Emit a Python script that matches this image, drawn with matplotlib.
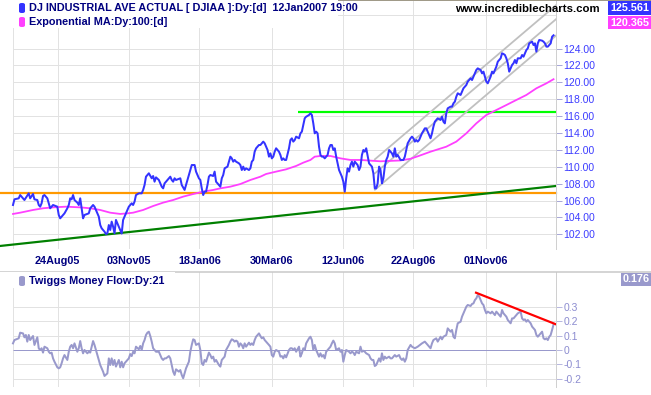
import matplotlib
matplotlib.use("Agg")
import matplotlib.pyplot as plt
import matplotlib.transforms as mtrans
from matplotlib.patches import Rectangle, FancyBboxPatch
from matplotlib.lines import Line2D

plt.rcParams['font.family'] = ['Liberation Sans', 'DejaVu Sans']

# ---------------- data (x = trading-day offset from 13 Jul 2005) ----------------
tick_days = [31.3, 80.9, 130.3, 180.9, 231.0, 280.0, 330.5]
tick_labels = ['24Aug05', '03Nov05', '18Jan06', '30Mar06', '12Jun06', '22Aug06', '01Nov06']

price_day = [0, 1, 4, 5, 7, 8, 11, 12, 14, 15, 17, 18, 19, 20, 21, 22, 24, 25, 26, 28,
             31, 32, 33, 35, 36, 38, 39, 40, 41, 42, 43, 45, 46, 47, 48, 49, 50, 53, 54, 56,
             57, 58, 60, 61, 62, 64, 65, 66, 67, 68, 69, 70, 71, 72, 74, 75, 76, 77, 78, 79,
             80, 81, 82, 83, 84, 85, 86, 88, 90, 91, 92, 93, 95, 97, 98, 99, 100, 102, 104, 105,
             106, 107, 109, 110, 111, 112, 113, 114, 117, 118, 120, 121, 122, 123, 124, 125, 127, 128, 130, 131,
             132, 133, 134, 135, 136, 137, 138, 140, 141, 142, 144, 145,
             146, 147, 148, 150, 151, 152, 153, 154, 155, 156, 158, 159, 160, 161, 162, 163, 165, 166, 167, 168,
             169, 170, 172, 173, 174, 175, 176, 177, 178, 179, 180, 181, 182, 183, 184, 186, 187, 188, 189, 190,
             191, 193, 194, 195, 196, 197, 198, 200, 201, 202, 203, 204, 205, 207, 208, 209, 210, 211, 212, 213,
             214, 215, 216, 217, 218, 219, 220, 221, 222, 223, 224, 225, 226, 227, 228, 229, 230, 231, 232, 233,
             234, 235, 236, 237, 238, 239, 240, 241, 242, 243, 244, 245, 246, 247, 249, 250, 251, 252, 253, 254,
             255, 256, 257, 258, 259, 260, 261, 262, 263, 265, 266, 267, 268, 269, 271, 273, 274, 275, 276, 278,
             279, 280, 281, 282, 283, 284,
             285, 286, 288, 289, 290, 292, 293, 294, 295, 297, 299, 300, 301, 302, 303, 304, 306, 307, 308, 309,
             310, 311, 313, 314, 315, 316, 317, 318, 320, 321, 322, 323, 324, 325, 327, 328, 329, 330, 331, 332,
             334, 335, 336, 337, 338, 339, 341, 342, 343, 344, 345, 346, 347, 348, 349, 350, 351, 352, 353, 355,
             356, 357, 358, 359, 360, 361, 363, 364, 365, 366, 367, 368, 370, 371, 372, 373, 374, 375, 376, 377,
             378]
price_val = [105.48, 106.15, 106.27, 106.66, 106.27, 106.07, 106.86, 106.27, 106.78, 106.15, 106.07, 105.48, 105.28, 105.68, 106.55, 106.66, 106.27, 105.68, 105.09, 105.48,
             105.28, 104.30, 103.90, 104.30, 104.49, 105.09, 105.48, 106.27, 106.15, 106.66, 106.07, 105.76, 105.48, 106.27, 105.09, 103.90, 104.30, 104.49, 105.09, 105.48,
             105.28, 104.89, 104.10, 103.11, 102.72, 102.32, 102.05, 102.13, 103.11, 102.52, 103.51, 102.92, 102.13, 103.71, 102.92, 102.52, 102.10, 103.71, 104.10, 104.49,
             104.89, 105.28, 105.48, 105.68, 105.48, 105.88, 106.66, 106.86, 106.86, 107.26, 107.85, 108.83, 109.23, 108.64, 108.91, 108.24, 108.75, 108.44, 107.65, 107.45,
             108.04, 108.24, 108.64, 108.83, 108.44, 108.24, 108.64, 108.44, 108.64, 107.85, 107.26, 107.85, 108.44, 109.03, 109.62, 110.21, 110.21, 109.43, 108.64, 108.44,
             107.45, 106.66, 107.06, 107.06, 107.85, 108.83, 109.03, 108.91, 109.43, 108.24, 107.85, 107.65,
             108.64, 109.03, 109.82, 110.02, 110.61, 111.20, 111.00, 110.61, 110.81, 110.61, 110.41, 110.21, 109.62, 110.02, 109.62, 109.82, 109.62, 109.82, 110.61, 110.81,
             111.79, 112.19, 112.58, 112.58, 112.78, 112.98, 112.78, 112.38, 111.99, 111.20, 111.59, 111.00, 111.20, 111.79, 112.19, 111.79, 111.40, 110.81, 111.00, 110.81,
             110.81, 112.19, 113.17, 113.37, 112.98, 113.17, 113.57, 113.37, 113.96, 114.16, 114.95, 115.74, 115.93, 116.13, 116.33, 116.13, 115.14, 113.96, 114.16, 113.96,
             112.38, 111.40, 111.20, 111.20, 111.00, 111.20, 111.40, 112.19, 112.58, 112.58, 111.99, 112.19, 111.20, 110.41, 109.62, 109.23, 108.83, 108.24, 107.06, 108.64,
             109.82, 109.43, 110.21, 110.61, 110.02, 110.61, 110.41, 110.21, 109.62, 110.02, 111.40, 111.99, 111.79, 112.19, 110.41, 110.21, 110.02, 109.23, 107.45, 107.45,
             108.04, 110.02, 109.62, 108.04, 108.64, 110.02, 110.81, 111.20, 111.99, 111.59, 111.20, 112.19, 111.20, 111.40, 110.81, 110.81, 111.20, 111.99, 112.78, 113.37,
             113.57, 113.37, 112.98, 113.17, 112.98, 113.17,
             113.57, 113.96, 114.55, 114.55, 114.16, 113.37, 113.96, 114.75, 115.34, 115.74, 115.54, 115.93, 115.34, 115.14, 116.33, 116.92, 117.12, 117.12, 117.51, 117.71,
             118.30, 118.70, 118.50, 118.89, 119.29, 119.48, 119.68, 120.08, 120.47, 120.27, 120.67, 121.06, 121.46, 121.65, 121.46, 121.06, 121.26, 120.67, 120.08, 119.88,
             120.67, 121.26, 121.06, 121.46, 121.85, 122.44, 122.84, 123.43, 123.35, 123.23, 122.84, 122.25, 121.26, 121.65, 122.05, 122.25, 122.64, 122.25, 122.84, 122.84,
             123.23, 123.03, 123.43, 123.82, 124.02, 124.61, 124.81, 124.41, 124.61, 123.63, 124.61, 125.01, 124.93, 124.81, 124.61, 124.22, 124.22, 124.41, 124.61, 125.40,
             125.561]

ema_day = [0, 5, 14, 21, 28, 37, 47, 54, 61, 68, 75, 80, 84, 91, 98, 105, 112, 119, 126, 133,
           140, 145, 152, 159, 166, 173, 177, 184, 191, 198, 203, 208, 211, 215, 222, 229, 236, 243, 250, 257,
           264, 271, 278, 284, 292, 303, 310, 317, 324, 331, 338, 345, 352, 359, 366, 373, 378]
ema_val = [104.42, 104.57, 104.89, 105.09, 105.20, 105.28, 105.20, 105.09, 104.89, 104.57, 104.42, 104.49, 104.57, 104.89, 105.36, 105.76, 106.07, 106.47, 106.78, 107.06,
           107.26, 107.45, 107.65, 107.96, 108.44, 108.83, 109.15, 109.43, 109.70, 110.10, 110.49, 110.81, 111.20, 111.28, 111.28, 111.00, 110.81, 110.81, 110.73, 110.65,
           110.70, 110.75, 110.95, 111.30, 111.79, 112.38, 112.98, 113.96, 115.14, 116.13, 116.72, 117.31, 117.91, 118.50, 119.29, 119.88, 120.365]

tmf_day = [0, 1, 4, 5, 7, 8, 9, 10, 11, 12, 14, 15, 17, 18, 19, 20, 21, 22, 24, 25,
           26, 27, 28, 29, 31, 32, 33, 34, 35, 36, 38, 39, 40, 41, 42, 43, 45, 46, 47, 48,
           49, 50, 52, 53, 54, 55, 56, 57, 59, 60, 61, 62, 63, 64, 66, 67, 68, 69, 70, 71,
           72, 74, 75, 76, 77, 78, 80, 81, 82, 83, 84, 85, 86, 88, 89, 90, 91, 92, 93, 94,
           95, 96, 97, 98, 99, 100, 102, 103, 104, 105, 106, 107, 109, 110, 111, 112, 113, 114, 116, 117,
           118, 119, 120, 121, 123, 124, 125, 126, 127, 128, 130, 131, 132, 133, 134, 135, 137, 138, 139, 140,
           141, 142, 144, 145,
           146, 147, 148, 149, 151, 152, 153, 154, 155, 156, 157, 158, 159, 160, 161, 162, 163, 165, 166, 167,
           168, 169, 170, 172, 173, 174, 175, 176, 177, 179, 180, 181, 182, 183, 184, 186, 187, 188, 189, 190,
           191, 193, 194, 195, 196, 197, 198, 200, 201, 202, 203, 204, 205, 207, 208, 209, 210, 211, 212, 214,
           215, 216, 217, 218, 219, 221, 222, 223, 224, 225, 226, 228, 229, 230, 231, 232, 233, 235, 236, 237,
           238, 239, 240, 242, 243, 244, 245, 246, 247, 249, 250, 251, 252, 253, 254, 256, 257, 258, 259, 260,
           261, 263, 264, 265, 266, 267, 268, 270, 271, 272, 273, 274, 275, 276, 278, 279, 281, 283, 286, 288,
           290, 292, 293, 294, 296, 297, 299, 300, 301, 303, 304, 306, 307, 308, 309, 310, 311, 313, 314, 315,
           316, 317, 318, 320, 321, 322, 323, 324, 325, 326, 327, 328, 329, 330, 331, 332, 334, 335, 336, 337,
           338, 339, 341, 342, 343, 344, 345, 346, 348, 349, 350, 351, 352, 353, 355, 356, 357, 358, 359, 360,
           362, 363, 364, 365, 366, 367, 369, 370, 371, 372, 373, 374, 375, 376, 377, 378]
tmf_val = [0.046, 0.069, 0.081, 0.120, 0.115, 0.088, 0.104, 0.058, 0.104, 0.069, 0.097, 0.035, 0.088, 0.012, 0.000, 0.012, -0.018, 0.023, 0.012, -0.012,
           -0.023, -0.018, -0.058, -0.081, -0.120, -0.127, -0.120, -0.092, -0.058, -0.035, -0.069, -0.012, 0.023, 0.035, 0.012, 0.046, -0.012, 0.012, 0.062, 0.012,
           -0.023, 0.000, -0.023, -0.012, -0.018, 0.023, 0.062, 0.035, -0.035, -0.069, -0.104, -0.127, -0.150, -0.180, -0.162, -0.058, -0.104, -0.058, -0.104, -0.069,
           -0.115, -0.069, -0.120, -0.081, -0.120, -0.092, -0.069, -0.058, -0.028, -0.042, -0.012, -0.023, 0.023, 0.005, 0.028, 0.000, 0.046, 0.069, 0.104, 0.120,
           0.127, 0.097, 0.058, 0.012, 0.000, -0.012, -0.012, -0.035, -0.058, -0.069, -0.058, -0.058, -0.042, -0.058, -0.104, -0.150, -0.173, -0.134, -0.150, -0.139,
           -0.173, -0.196, -0.162, -0.127, -0.081, -0.012, 0.035, 0.074, 0.069, 0.035, 0.046, 0.000, -0.092, -0.104, -0.069, -0.081, -0.018, -0.035, -0.058, -0.046,
           -0.081, -0.069, -0.104, -0.115,
           -0.069, -0.058, -0.046, 0.000, 0.035, 0.058, 0.074, 0.069, 0.058, 0.065, 0.058, 0.023, 0.046, 0.035, 0.012, 0.046, 0.023, 0.051, 0.035, 0.046,
           0.035, 0.069, 0.092, 0.115, 0.097, 0.081, 0.088, 0.069, 0.058, 0.035, 0.023, -0.035, -0.046, -0.012, 0.000, -0.012, -0.046, -0.042, -0.058, -0.035,
           -0.051, 0.000, 0.012, 0.012, 0.000, 0.012, -0.012, 0.023, -0.046, -0.023, 0.012, 0.000, 0.046, 0.081, 0.092, 0.069, 0.000, 0.035, 0.000, -0.046,
           -0.023, -0.046, -0.035, -0.058, -0.012, 0.012, 0.023, 0.046, 0.065, 0.046, 0.000, 0.012, -0.012, 0.000, -0.081, -0.035, 0.000, -0.012, -0.023, -0.012,
           -0.018, -0.035, -0.012, -0.023, 0.023, -0.012, -0.005, -0.012, -0.023, -0.035, -0.058, -0.069, -0.069, -0.111, -0.104, -0.058, -0.081, -0.023, -0.069, -0.046,
           -0.058, -0.046, -0.058, -0.058, -0.046, -0.035, -0.046, -0.035, -0.058, -0.069, -0.058, -0.081, -0.058, 0.000, 0.035, 0.023, 0.012, 0.023, 0.046, 0.058,
           0.035, 0.012, 0.046, 0.069, 0.081, 0.058, 0.092, 0.074, 0.092, 0.104, 0.150, 0.127, 0.139, 0.092, 0.081, 0.139, 0.185, 0.196, 0.231, 0.254,
           0.277, 0.300, 0.312, 0.305, 0.319, 0.323, 0.346, 0.358, 0.381, 0.370, 0.346, 0.323, 0.312, 0.277, 0.254, 0.266, 0.254, 0.266, 0.254, 0.242,
           0.266, 0.254, 0.231, 0.277, 0.254, 0.242, 0.231, 0.208, 0.185, 0.219, 0.219, 0.231, 0.242, 0.254, 0.266, 0.219, 0.208, 0.212, 0.196, 0.208,
           0.185, 0.162, 0.150, 0.139, 0.104, 0.092, 0.115, 0.127, 0.081, 0.074, 0.081, 0.069, 0.092, 0.104, 0.139, 0.176]

price_ticks = [102, 104, 106, 108, 110, 112, 114, 116, 118, 120, 122, 124]
tmf_ticks = [-0.2, -0.1, 0, 0.1, 0.2, 0.3]

support_level = 106.94
resistance_level = 116.49
resistance_from_day = 199.5
trend_days = [-9.1, 379.7]
trend_vals = [100.63, 107.73]
channel_days = [253.1, 381.0]
channel_top = [110.89, 129.31]
channel_mid = [109.23, 127.65]
channel_bot = [107.29, 125.71]
tmf_trend_days = [323.8, 379.7]
tmf_trend_vals = [0.397, 0.178]

last_price = 125.561
last_ema = 120.365
last_tmf = 0.176

# ---------------- layout helpers ----------------
W, H = 651, 395
fig = plt.figure(figsize=(W / 100, H / 100), dpi=100)
fig.patch.set_facecolor('white')

def fx(x):
    return x / W

def fy(y):
    return 1 - y / H

PX = 0.72  # points per pixel
XMIN, XMAX = -9.09, 379.72

ax1 = fig.add_axes([0, fy(249), fx(556), (249 - 0) / H])
ax2 = fig.add_axes([0, fy(387), fx(556), (387 - 272) / H])

GRID = '#e2e2e2'
NAVY = '#000080'

for ax in (ax1, ax2):
    ax.set_xlim(XMIN, XMAX)
    for s in ('top', 'left', 'bottom'):
        ax.spines[s].set_visible(False)
    ax.spines['right'].set_color('#d0d0d0')
    ax.spines['right'].set_linewidth(PX)
    ax.set_xticks([])
    ax.yaxis.tick_right()
    for d in [0] + tick_days:
        ax.axvline(d, color=GRID, lw=PX, zorder=0)

# ---------------- main panel ----------------
ax1.set_ylim(100.272, 129.74)
for v in price_ticks + [128]:
    ax1.hlines(v, 0, XMAX, color=GRID, lw=PX, zorder=0)
ax1.set_yticks(price_ticks)
ax1.set_yticklabels([f'{v:.2f}' for v in price_ticks])
ax1.tick_params(axis='y', length=6 * PX, width=PX, color='#a8a8d8',
                labelcolor='#3c3cff', labelsize=7.5, pad=1)

ax1.axhline(support_level, color='#ff9900', lw=2.2 * PX, zorder=2, clip_on=False)
ax1.plot(trend_days, trend_vals, color='#008000', lw=2.2 * PX, zorder=2)
ax1.hlines(resistance_level, resistance_from_day, XMAX, color='#00ff00', lw=2.2 * PX, zorder=2)
for ch in (channel_top, channel_mid, channel_bot):
    ax1.plot(channel_days, ch, color='#c0c0c0', lw=1.8 * PX, zorder=3)
ax1.plot(ema_day, ema_val, color='#ff40ff', lw=1.8 * PX, zorder=4)
ax1.plot(price_day, price_val, color='#3333ff', lw=2.0 * PX, zorder=5)

# date labels
tr = mtrans.blended_transform_factory(ax1.transData, fig.transFigure)
for d, lab in zip(tick_days, tick_labels):
    ax1.text(d, fy(261), lab, transform=tr, ha='center', va='center',
             fontsize=7.8, fontweight='bold', color=NAVY, clip_on=False)

# ---------------- lower panel ----------------
ax2.set_ylim(-0.2564, 0.5405)
for v in tmf_ticks:
    if v != 0:
        ax2.hlines(v, 0, XMAX, color=GRID, lw=PX, zorder=0)
ax2.hlines(-0.254, 0, XMAX, color=GRID, lw=PX, zorder=0)
ax2.hlines(0, 0, XMAX, color='#9999cc', lw=PX, zorder=2)
ax2.set_yticks(tmf_ticks)
ax2.set_yticklabels(['-0.2', '-0.1', '0', '0.1', '0.2', '0.3'])
ax2.tick_params(axis='y', length=6 * PX, width=PX, color='#b8b8e0',
                labelcolor='#8c8cd0', labelsize=7.5, pad=1)
ax2.plot(tmf_day, tmf_val, color='#9999cc', lw=2.0 * PX, zorder=3)
ax2.plot(tmf_trend_days, tmf_trend_vals, color='#ff0000', lw=2.2 * PX, zorder=4)

# ---------------- legends, boxes, decorations ----------------
def marker(x0, y0, x1, y1, color):
    p = FancyBboxPatch((fx(x0), fy(y1)), fx(x1 - x0), (y1 - y0) / H,
                       boxstyle='round,pad=0,rounding_size=0.004',
                       transform=fig.transFigure, facecolor=color, edgecolor='none', zorder=10)
    fig.add_artist(p)

def box(x0, y0, x1, y1, color):
    r = Rectangle((fx(x0), fy(y1)), fx(x1 - x0), (y1 - y0) / H,
                  transform=fig.transFigure, facecolor=color, edgecolor='none', zorder=10)
    fig.add_artist(r)

# white legend backgrounds covering grid
box(0, 0, 338, 28, 'white')
box(0, 272, 175, 288, 'white')

marker(19, 3, 25, 13, '#3333ff')
marker(19, 17, 25, 27, '#ff40ff')
marker(19, 276, 25, 286, '#9999cc')

fig.text(fx(29), fy(8), 'DJ INDUSTRIAL AVE ACTUAL [ DJIAA ]:Dy:[d]  12Jan2007 19:00',
         fontsize=7.8, fontweight='bold', color=NAVY, va='center', ha='left', zorder=11)
fig.text(fx(29), fy(22), 'Exponential MA:Dy:100:[d]',
         fontsize=7.8, fontweight='bold', color=NAVY, va='center', ha='left', zorder=11)
fig.text(fx(29), fy(281), 'Twiggs Money Flow:Dy:21',
         fontsize=7.8, fontweight='bold', color=NAVY, va='center', ha='left', zorder=11)
fig.text(fx(455), fy(8.5), 'www.incrediblecharts.com',
         fontsize=8.2, fontweight='bold', color='black', va='center', ha='left', zorder=11)

box(608, 1, 651, 15, '#3333ff')
fig.text(fx(630), fy(8), f'{last_price:.3f}', fontsize=7.8, fontweight='bold',
         color='white', ha='center', va='center', zorder=11)
box(608, 16, 651, 29, '#ff40ff')
fig.text(fx(630), fy(22.5), f'{last_ema:.3f}', fontsize=7.8, fontweight='bold',
         color='white', ha='center', va='center', zorder=11)
box(621, 273, 651, 286, '#9999cc')
fig.text(fx(636), fy(279.5), f'{last_tmf:.3f}', fontsize=7.8, fontweight='bold',
         color='white', ha='center', va='center', zorder=11)

fig.add_artist(Line2D([0, 1], [fy(271.7), fy(271.7)], transform=fig.transFigure,
                      color='#c8c8c8', lw=1.5 * PX))
fig.add_artist(Line2D([0, 1], [fy(0.3), fy(0.3)], transform=fig.transFigure,
                      color='#a09a88', lw=PX))

fig.savefig('out.png', dpi=100, facecolor='white')
